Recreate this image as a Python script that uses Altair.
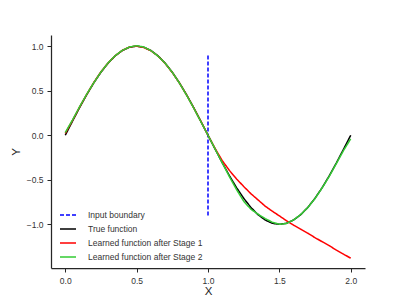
import altair as alt
import pandas as pd

x_vals = [0.0, 0.05, 0.1, 0.15, 0.2, 0.25, 0.3, 0.35, 0.4, 0.45, 0.5, 0.55, 0.6, 0.65, 0.7,
          0.75, 0.8, 0.85, 0.9, 0.95, 1.0, 1.05, 1.1, 1.15, 1.2, 1.25, 1.3, 1.35, 1.4, 1.45,
          1.5, 1.55, 1.6, 1.65, 1.7, 1.75, 1.8, 1.85, 1.9, 1.95, 2.0]

true_y = [0.0, 0.156, 0.309, 0.454, 0.588, 0.707, 0.809, 0.891, 0.951, 0.988, 1.0, 0.988,
          0.951, 0.891, 0.809, 0.707, 0.588, 0.454, 0.309, 0.156, 0.0, -0.156, -0.309, -0.454,
          -0.588, -0.707, -0.809, -0.891, -0.951, -0.988, -1.0, -0.988, -0.951, -0.891, -0.809,
          -0.707, -0.588, -0.454, -0.309, -0.156, 0.0]

stage1_y = [0.02, 0.165, 0.315, 0.458, 0.592, 0.712, 0.812, 0.893, 0.953, 0.99, 1.0, 0.985,
            0.948, 0.888, 0.806, 0.704, 0.585, 0.452, 0.307, 0.155, 0.0, -0.15, -0.285, -0.395,
            -0.49, -0.575, -0.655, -0.725, -0.795, -0.852, -0.905, -0.96, -1.01, -1.055, -1.1,
            -1.15, -1.195, -1.24, -1.29, -1.335, -1.38]

stage2_y = [0.03, 0.17, 0.318, 0.46, 0.59, 0.71, 0.812, 0.893, 0.953, 0.99, 1.005, 0.99,
            0.95, 0.888, 0.808, 0.705, 0.585, 0.45, 0.305, 0.152, 0.0, -0.155, -0.31, -0.465,
            -0.61, -0.74, -0.83, -0.885, -0.935, -0.975, -1.0, -0.99, -0.95, -0.89, -0.81,
            -0.71, -0.59, -0.46, -0.315, -0.17, -0.04]

boundary_x = [1.0, 1.0]
boundary_y = [-0.9, 0.9]

series_names = ["Input boundary", "True function",
                "Learned function after Stage 1", "Learned function after Stage 2"]
series_colors = ["#0000ff", "#000000", "#ff0000", "#33cc33"]
series_dash = [[4, 2], [1, 0], [1, 0], [1, 0]]

rows = []
for xv, yv in zip(boundary_x, boundary_y):
    rows.append({"x": xv, "y": yv, "s": series_names[0], "o": 0})
for name, ys, o in [(series_names[1], true_y, 1), (series_names[2], stage1_y, 2),
                    (series_names[3], stage2_y, 3)]:
    for xv, yv in zip(x_vals, ys):
        rows.append({"x": xv, "y": yv, "s": name, "o": o})
df = pd.DataFrame(rows)

font = "Liberation Sans"

legend = alt.Legend(
    title=None, orient="none", legendX=8, legendY=171,
    symbolType="stroke", symbolSize=256, symbolStrokeWidth=1.5,
    labelFont=font, labelFontSize=8.5, labelColor="#333333",
    rowPadding=0, padding=0, labelOffset=11,
)

chart = alt.Chart(df).mark_line(strokeWidth=1.5).encode(
    x=alt.X("x:Q", scale=alt.Scale(domain=[-0.1, 2.1], nice=False, zero=False),
            axis=alt.Axis(values=[0.0, 0.5, 1.0, 1.5, 2.0], format=".1f", title="X")),
    y=alt.Y("y:Q", scale=alt.Scale(domain=[-1.49, 1.125], nice=False, zero=False),
            axis=alt.Axis(values=[-1.0, -0.5, 0.0, 0.5, 1.0], format=".1f", title="Y")),
    color=alt.Color("s:N", scale=alt.Scale(domain=series_names, range=series_colors), legend=legend),
    strokeDash=alt.StrokeDash("s:N", scale=alt.Scale(domain=series_names, range=series_dash), legend=legend),
    detail="s:N",
    order=alt.Order("x:Q"),
).properties(
    width=314, height=233,
    autosize=alt.AutoSizeParams(type="none"),
    padding={"left": 43, "top": 27, "right": 32, "bottom": 28},
).configure_view(stroke=None).configure_axis(
    grid=False, domainColor="#262626", domainWidth=1.25, tickColor="#262626", tickSize=4,
    tickWidth=1, labelFont=font, labelFontSize=8.5, labelColor="#333333", titleFont=font,
    titleFontSize=11.5, titleFontWeight="normal", titleColor="#262626", labelPadding=4,
).configure_axisX(titlePadding=1).configure_axisY(titlePadding=5)

chart.save("out.html", embed_options={"renderer": "svg", "actions": False})
